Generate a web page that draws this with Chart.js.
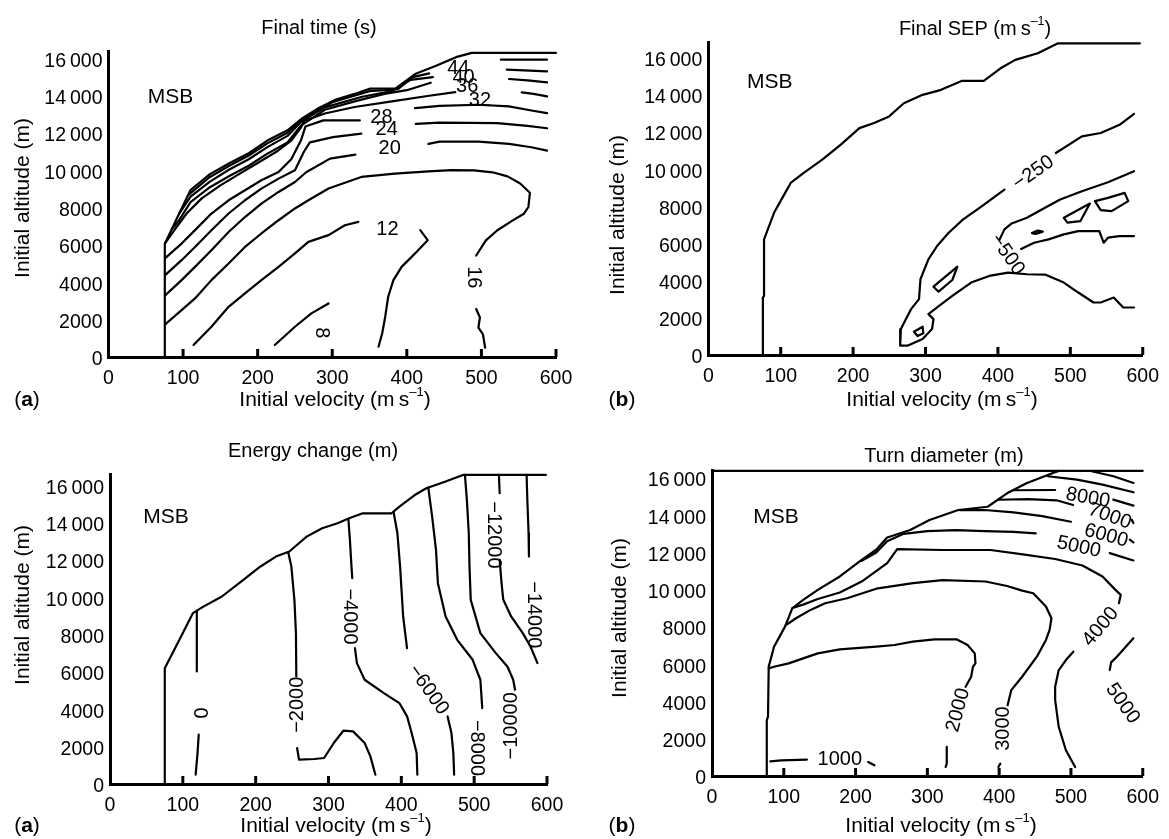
<!DOCTYPE html>
<html><head><meta charset="utf-8">
<script src="https://cdn.jsdelivr.net/npm/chart.js@4"></script>
<style>
html,body{margin:0;padding:0;background:#fff;}
#wrap{position:relative;width:1169px;height:839px;background:#fff;overflow:hidden;}
#wrap canvas{position:absolute;left:0;top:0;}
</style></head><body><div id="wrap">
<canvas id="c1" width="1169" height="839"></canvas>
<canvas id="c2" width="1169" height="839"></canvas>
<canvas id="c3" width="1169" height="839"></canvas>
<canvas id="c4" width="1169" height="839"></canvas>
</div>
<script>
// ---------- ticks ----------
const X_TICKS = [0,100,200,300,400,500,600];
const Y_TICKS = [0,2000,4000,6000,8000,10000,12000,14000,16000];

// ---------- Panel 1: Final time (s) ----------
const P1_BOUNDARY = [[75.5,0],[75.5,6070],[95,7700],[110,8950],[136,9800],[162,10380],[188,10920],[213,11600],[240,12150],[260,12800],[280,13300],[305,13800],[330,14100],[350,14380],[385,14400],[412,15180],[440,15620],[466,16070],[487,16300],[600,16300]];
const P1_C8 = [[223,640],[250,1620],[272,2340],[295,2870]];
const P1_C12A = [[114,640],[138,1620],[161,2690],[183,3410],[205,4120],[228,4830],[250,5550],[268,6170],[295,6530],[317,7060],[335,7240]];
const P1_C12B = [[418,6800],[428,6260],[411,5550],[393,4830],[382,4120],[375,3230],[371,2160],[367,1270],[362,550]];
const P1_C16A = [[76,1750],[98,2515],[116,3140],[138,4120],[161,5010],[183,5900],[205,6620],[228,7330],[250,7960],[268,8400],[295,9030],[339,9650],[384,9830],[429,9950],[460,10020],[490,10000],[515,9900],[535,9680],[552,9300],[565,8800],[563,8040],[557,7680],[542,7320],[521,6780],[506,6250],[493,5440]];
const P1_C16B = [[493,2570],[498,2120],[496,1580],[502,1220],[505,500]];
const P1_C20A = [[76,3300],[98,4120],[116,4830],[138,5725],[161,6700],[183,7500],[205,8220],[228,8845],[250,9380],[265,9900],[297,10630],[331,10850]];
const P1_C20B = [[429,11420],[444,11540],[496,11540],[537,11420],[567,11240],[588,11060]];
const P1_C24A = [[76,4390],[98,5190],[116,5900],[138,6795],[161,7690],[183,8400],[205,9026],[228,9560],[250,10005],[262,11000],[270,11500],[301,11787],[339,11968]];
const P1_C24B = [[412,12490],[444,12565],[521,12530],[562,12385],[588,12260]];
const P1_C28A = [[76,5300],[98,6080],[116,6800],[138,7690],[161,8400],[183,8935],[205,9470],[228,9916],[245,10600],[258,11600],[264,12350],[288,12680],[337,12680]];
const P1_C28B = [[411,13340],[444,13460],[496,13520],[537,13430],[567,13210],[588,13070]];
const P1_C32A = [[76,6100],[90,6900],[105,7700],[125,8500],[150,9200],[175,9800],[200,10400],[225,11000],[245,11600],[258,12300],[262,12650],[290,13050],[330,13400],[380,13700],[430,14000],[465,14200]];
const P1_C32B = [[554,14180],[570,14100],[588,13965]];
const P1_C36A = [[85,6860],[95,7350],[110,8300],[136,9100],[162,9700],[188,10250],[213,10900],[240,11500],[258,12400],[290,13250],[330,13700],[370,14100],[400,14300],[432,14700]];
const P1_C36B = [[537,14900],[562,14830],[588,14720]];
const P1_C40A = [[95,7700],[110,8600],[136,9400],[162,10050],[188,10600],[213,11250],[240,11850],[258,12600],[290,13380],[340,13950],[380,14250],[405,14850],[435,15000]];
const P1_C40B = [[534,15400],[557,15365],[588,15310]];
const P1_C44A = [[108,8720],[136,9650],[162,10250],[188,10800],[213,11450],[240,12020],[258,12700],[300,13650],[350,14250],[388,14350],[408,15000],[430,15200]];
const P1_C44B = [[526,15940],[588,15940]];
const P1_LABELS = [["8",285,1300,90],["12",374,6830,0],["16",489,4272,90],["20",377,11166,0],["24",373,12180,0],["28",366,12857,0],["32",498,13750,0],["36",481,14500,0],["40",476,15000,0],["44",469,15450,0]];

// ---------- Panel 2: Final SEP ----------
const P2_BOUNDARY = [[75.4,0],[75.4,3090],[77,3180],[77,6220],[90.8,7650],[103.6,8550],[113.8,9260],[131.8,9800],[157.4,10510],[183,11320],[208.7,12210],[229,12480],[249.7,12840],[270,13550],[296,14000],[321.5,14270],[349.7,14750],[380.5,14750],[403.6,15430],[424,15880],[455,16240],[483,16770],[596,16770]];
const P2_M250A = [[409,8900],[378,8010],[352,7295],[332,6580],[316,5865],[304,5150],[293,4077],[291,3004],[280,2467],[273,1931],[266,1395],[265,500],[275,500],[296,858],[309,1395],[311,1931],[304,2199],[316,2557],[337,3183],[363,3898],[388,4255],[414,4434],[440,4345],[465,4327],[491,3898],[511,3361],[532,2825],[542,2825],[560,3093],[573,2557],[588,2557]];
const P2_M250B = [[480,10870],[516,11765],[542,11944],[568,12390],[588,12980]];
const P2_M500A = [[588,9888],[552,9298],[516,8815],[486,8368],[465,7921],[440,7384],[419,7080],[409,6760],[402,6190]];
const P2_M500B = [[432,5700],[450,6043],[470,6222],[491,6490],[511,6669],[540,6669],[546,6043],[552,6312],[568,6401],[588,6401]];
const P2_LOOP1 = [[491,7384],[527,8150],[514,7206],[496,7120],[491,7384]];
const P2_LOOP2 = [[534,8278],[552,8457],[575,8725],[580,8278],[557,7742],[542,7795],[534,8278]];
const P2_BLOB = [[447,6560],[455,6700],[462,6640],[452,6520],[447,6560]];
const P2_LOOP3 = [[311,3677],[344,4752],[337,4036],[318,3407],[311,3677]];
const P2_LOOP4 = [[284,1254],[296,1523],[297,1168],[289,1022],[284,1254]];
const P2_LABELS = [["\u2212250",449,9800,-35],["\u2212500",413,5400,55]];

// ---------- Panel 3: Energy change (m) ----------
const P3_BOUNDARY = [[75.2,0],[75.2,6210],[95.3,7730],[113.9,9160],[127,9480],[153.6,10050],[180,10850],[206.6,11660],[227.8,12190],[246.3,12460],[254.2,12730],[270,13260],[291.3,13710],[312.5,13980],[328.4,14240],[347,14510],[386.7,14510],[397.3,14870],[418.4,15490],[434.3,15850],[460.8,16210],[484.6,16565],[598.5,16565]];
const P3_C0A = [[119.2,9280],[119.2,6033]];
const P3_C0B = [[121.8,2642],[120.2,1660],[117.6,500]];
const P3_CM2000A = [[244.7,12420],[249,11656],[253.2,9871],[255.3,8086],[255.8,5766]];
const P3_CM2000B = [[256.9,1928],[259.5,1303],[280.7,1339],[294,1392],[307.2,2196],[320.4,2856],[333.7,2820],[349.6,2196],[357.5,1482],[364.4,500]];
const P3_CM4000A = [[327.3,14210],[329.4,13084],[331,12013],[332.6,11032]];
const P3_CM4000B = [[336.3,7283],[339,6480],[349.6,5587],[376,4873],[397.3,4338],[407.9,3624],[414.2,2731],[421,1660],[422,500]];
const P3_CM6000A = [[389.3,14590],[394.6,13441],[398.3,11656],[402.5,8979],[407.8,7283]];
const P3_CM6000B = [[463.5,3624],[468.8,2731],[471.4,1660],[472.5,500]];
const P3_CM8000 = [[437,15890],[442.3,14333],[447.6,12549],[450.2,10764],[460.8,8979],[476.7,7729],[497.9,6658],[508.5,5587],[511.1,4070]];
const P3_CM10000 = [[487.3,16565],[490,15226],[492.6,13441],[493.6,11656],[495.3,9871],[508.5,8086],[529.7,7015],[545.6,6301],[553.6,5587],[556.1,5052]];
const P3_CM12000A = [[534,16565],[535,15583]];
const P3_CM12000B = [[535,12013],[537.6,10764],[540,9871],[550.8,8979],[566.7,8086],[577.3,7372],[586.9,6480]];
const P3_CM14000A = [[572,16565],[573,15226],[574.7,13441],[575.2,12192]];
const P3_LABELS = [["0",122.9,3802,90],["\u22122000",258,4248,-90],["\u22124000",329.4,8979,90],["\u22126000",437,5052,55],["\u22128000",503.2,1928,90],["\u221210000",550.8,3120,-90],["\u221212000",527,13352,90],["\u221214000",581.6,9068,90]];

// ---------- Panel 4: Turn diameter (m) ----------
const P4_CEILING = [[0,16380],[600,16380]];
const P4_BOUNDARY = [[76.3,0],[76.3,3000],[78,3180],[79,5870],[86.4,6940],[101.7,8020],[111.8,9000],[127,9450],[147.4,9990],[178,10710],[208.5,11600],[228.8,12145],[244,12800],[276,13204],[303,13741],[343,14278],[384,14455],[411,15174],[438,15711],[474,16248],[483,16380]];
const P4_C1000A = [[81.3,790],[96.6,843],[132.2,879]];
const P4_C1000B = [[217.6,753],[226.2,574]];
const P4_C2000A = [[79,5776],[86.4,5866],[106.8,6046],[127,6315],[147.4,6584],[178,6799],[228.8,6943],[254.2,7032],[279.6,7212],[310,7337],[340.6,7337],[356,7032],[366,6584],[367,6046],[363.5,5866],[361,5328],[353.3,4790]];
const P4_C2000B = [[327,1561],[327,664],[325.4,484]];
const P4_C3000A = [[102.7,8109],[106.8,8199],[117,8468],[137.3,8916],[157.6,9275],[188.1,9544],[231,10075],[280,10351],[321,10520],[381,10441],[411,10200],[432,9950],[447.4,9813],[465.2,9096],[472.8,8468],[470.3,7840],[465.2,7302],[452.5,6405],[432,5328],[416.9,4611],[411.8,3803]];
const P4_C3000B = [[401.6,664],[399,484]];
const P4_C4000A = [[112,9020],[127,9200],[147.4,9500],[178,9850],[208.5,10440],[244,11428],[258,12180],[321,12131],[388,12131],[433,11900],[478,11650],[516,11300],[544,10710],[562,9992],[569.4,9723],[566.8,9275]];
const P4_C4000B = [[503.3,6674],[493,6225],[483,5687],[478,4790],[478,4072],[483,2637],[493,1381],[505.8,484]];
const P4_C5000A = [[208.5,11550],[228.8,12000],[244,12600],[267,13000],[300,13150],[340,13200],[380,13150],[420,13100],[451,13027]];
const P4_C5000B = [[554,11966],[587,11571]];
const P4_C5000C = [[554,5687],[556,6100],[564,6405],[587,7391]];
const P4_C6000A = [[345,14270],[380,14278],[420,14150],[460,13950],[500,13650]];
const P4_C6000B = [[582,12683],[587,12540]];
const P4_C7000A = [[399,14830],[440,14860],[480,14800],[503,14550]];
const P4_C7000B = [[584.6,13760],[587,13580]];
const P4_C8000A = [[420,15340],[478,15352]];
const P4_C8000B = [[559,14836],[587,14513]];
const P4_C9000 = [[467.7,16092],[508.4,15912],[544,15644],[587.2,15231]];
const P4_C10000 = [[528.7,16361],[559.2,16092],[587.2,15733]];
const P4_LABELS = [["1000",178,879,0],["2000",343,3534,-75],["3000",406.7,2547,-90],["4000",541.4,8019,-50],["5000",572,3893,55],["5000",511,12289,12],["6000",549,12899,15],["7000",554,13939,20],["8000",523.6,14926,10]];

// ---------- drawing helpers ----------
const FAM = '"Liberation Sans", Arial, Helvetica, sans-serif';
const fnt = (s, b) => (b ? 'bold ' : '') + s + 'px ' + FAM;
function drawRich(ctx, parts, x, y, size, rot) {
  ctx.save();
  ctx.translate(x, y);
  if (rot) ctx.rotate(rot * Math.PI / 180);
  ctx.textBaseline = 'middle'; ctx.textAlign = 'left'; ctx.fillStyle = '#000';
  let w = 0;
  const ws = parts.map(([t, s]) => { ctx.font = s === 'sup' ? fnt(size * 0.62) : fnt(size, s === 'b'); const m = ctx.measureText(t).width; w += m; return m; });
  let cx = -w / 2;
  parts.forEach(([t, s], i) => {
    ctx.font = s === 'sup' ? fnt(size * 0.62) : fnt(size, s === 'b');
    ctx.fillText(t, cx, s === 'sup' ? -size * 0.36 : 0);
    cx += ws[i];
  });
  ctx.restore();
}
const VEL = [["Initial velocity (m\u2009s",""],["\u20131","sup"],[")",""]];
const ALT = [["Initial altitude (m)",""]];

const decor = {
  id: 'decor',
  afterDraw(chart, args, o) {
    const ctx = chart.ctx, xs = chart.scales.x, ys = chart.scales.y, a = chart.chartArea;
    ctx.save();
    ctx.fillStyle = '#000';
    X_TICKS.forEach(v => { if (v > 0) { const px = xs.getPixelForValue(v); ctx.fillRect(px - 1.5, a.bottom - 8, 3, 8); } });
    o.labels.forEach(([t, xv, yv, r]) => drawRich(ctx, [[t, ""]], xs.getPixelForValue(xv), ys.getPixelForValue(yv), 20, r));
    drawRich(ctx, [["MSB", ""]], xs.getPixelForValue(o.msb[0]), ys.getPixelForValue(o.msb[1]), 21, 0);
    const L = o.layout;
    drawRich(ctx, o.title, L.title[0], L.title[1], 20, 0);
    drawRich(ctx, VEL, L.xt[0], L.xt[1], 21, 0);
    drawRich(ctx, ALT, L.yt[0], L.yt[1], 21, -90);
    drawRich(ctx, [["(", ""], [o.letter, "b"], [")", ""]], L.let[0], L.let[1], 21, 0);
    ctx.restore();
  }
};

const YW = 80, XH = 60;
const fmtY = v => v >= 10000 ? Math.floor(v / 1000) + '\u2009' + String(v % 1000).padStart(3, '0') : String(v);

function makeChart(id, geo, lines, extra) {
  new Chart(document.getElementById(id), {
    type: 'scatter',
    data: { datasets: lines.map(arr => ({ data: arr.map(p => ({ x: p[0], y: p[1] })), showLine: true, borderColor: '#000', borderWidth: 2.2, pointRadius: 0, fill: false, tension: 0, clip: false, borderJoinStyle: 'round', borderCapStyle: 'round' })) },
    options: {
      responsive: false, animation: false, devicePixelRatio: 1, events: [],
      layout: { autoPadding: false, padding: { left: geo.left - YW, top: geo.top, right: 1169 - geo.right, bottom: 839 - geo.bottom - XH } },
      plugins: { legend: { display: false }, tooltip: { enabled: false }, title: { display: false }, decor: extra },
      scales: {
        x: { type: 'linear', min: 0, max: 600,
          afterBuildTicks: s => { s.ticks = X_TICKS.map(v => ({ value: v })); },
          afterFit: s => { s.height = XH; },
          grid: { display: true, drawOnChartArea: false, drawTicks: false, color: 'rgba(0,0,0,0)' },
          border: { display: true, color: '#000', width: 3 },
          ticks: { color: '#000', font: { family: FAM, size: 19.5 }, padding: 10, maxRotation: 0, autoSkip: false } },
        y: { type: 'linear', min: 0, max: geo.ymax,
          afterBuildTicks: s => { s.ticks = Y_TICKS.map(v => ({ value: v })); },
          afterFit: s => { s.width = YW; },
          grid: { display: true, drawOnChartArea: false, drawTicks: false, color: 'rgba(0,0,0,0)' },
          border: { display: true, color: '#000', width: 3 },
          ticks: { color: '#000', font: { family: FAM, size: 19.5 }, padding: 6, labelOffset: 3, callback: fmtY } }
      }
    },
    plugins: [decor]
  });
}

makeChart('c1', { left: 108.5, right: 556, top: 51, bottom: 357, ymax: 16400 },
  [P1_BOUNDARY, P1_C8, P1_C12A, P1_C12B, P1_C16A, P1_C16B, P1_C20A, P1_C20B, P1_C24A, P1_C24B, P1_C28A, P1_C28B, P1_C32A, P1_C32B, P1_C36A, P1_C36B, P1_C40A, P1_C40B, P1_C44A, P1_C44B],
  { labels: P1_LABELS, msb: [83, 13900], letter: 'a', title: [["Final time (s)", ""]],
    layout: { title: [319, 28], xt: [335, 400], yt: [23, 198], let: [27, 400] } });

makeChart('c2', { left: 708.3, right: 1148.3, top: 42.8, bottom: 355, ymax: 16800 },
  [P2_BOUNDARY, P2_M250A, P2_M250B, P2_M500A, P2_M500B, P2_LOOP1, P2_LOOP2, P2_BLOB, P2_LOOP3, P2_LOOP4],
  { labels: P2_LABELS, msb: [85, 14700], letter: 'b', title: [["Final SEP (m\u2009s", ""], ["\u20131", "sup"], [")", ""]],
    layout: { title: [975, 29], xt: [942, 400], yt: [618, 215], let: [622, 400] } });

makeChart('c3', { left: 110, right: 547, top: 474.3, bottom: 784, ymax: 16600 },
  [P3_BOUNDARY, P3_C0A, P3_C0B, P3_CM2000A, P3_CM2000B, P3_CM4000A, P3_CM4000B, P3_CM6000A, P3_CM6000B, P3_CM8000, P3_CM10000, P3_CM12000A, P3_CM12000B, P3_CM14000A],
  { labels: P3_LABELS, msb: [77, 14300], letter: 'a', title: [["Energy change (m)", ""]],
    layout: { title: [313, 451], xt: [336, 826], yt: [23, 605], let: [27, 826] } });

makeChart('c4', { left: 712, right: 1157, top: 470.5, bottom: 776, ymax: 16400 },
  [P4_CEILING, P4_BOUNDARY, P4_C1000A, P4_C1000B, P4_C2000A, P4_C2000B, P4_C3000A, P4_C3000B, P4_C4000A, P4_C4000B, P4_C5000A, P4_C5000B, P4_C5000C, P4_C6000A, P4_C6000B, P4_C7000A, P4_C7000B, P4_C8000A, P4_C8000B, P4_C9000, P4_C10000],
  { labels: P4_LABELS, msb: [89, 13890], letter: 'b', title: [["Turn diameter (m)", ""]],
    layout: { title: [944, 456], xt: [941, 826], yt: [620, 618], let: [622, 826] } });
</script>
</body></html>
